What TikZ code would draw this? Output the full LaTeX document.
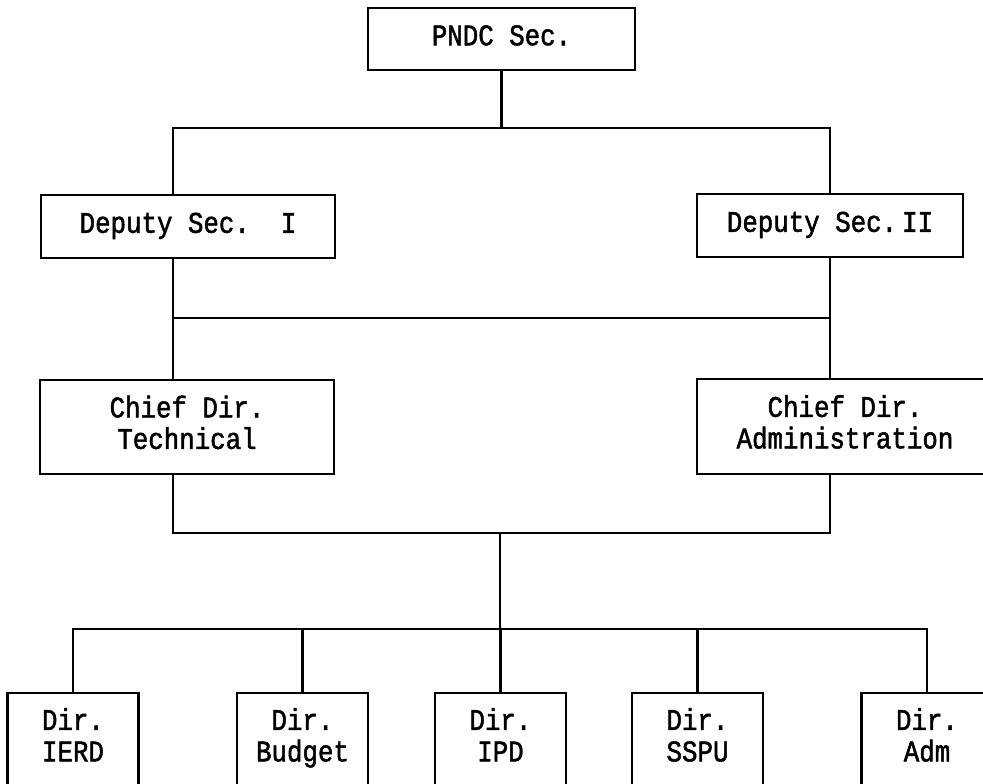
\documentclass[tikz,border=0pt]{standalone}
\usepackage{fontspec}
\newfontfamily\orgfont[FakeStretch=0.86, FakeBold=1.6]{Liberation Mono}
\usepackage{tikz}
\usetikzlibrary{positioning,calc}

\begin{document}
\begin{tikzpicture}[
  x=1pt, y=-1pt,
  post/.style={draw, line width=2.2pt, align=center, inner sep=0pt, font=\orgfont\fontsize{30}{31.5}\selectfont,
    execute at begin node=\strut, execute at end node=\strut},
  dirbox/.style={post, minimum width=131pt, minimum height=93pt},
  link/.style={line width=2.2pt}
]
\useasboundingbox (0,0) rectangle (983,784);
% top level
\node[post, minimum width=267pt, minimum height=62pt] (pndc) at (501.5,39) {PNDC Sec.};
\node[post, minimum width=294pt, minimum height=63pt] (depone) at (188,226.5) {Deputy Sec.~~I};
\node[post, minimum width=266pt, minimum height=63pt] (deptwo) at (830,225.5) {Deputy Sec.\,II};
\node[post, minimum width=294pt, minimum height=94pt] (chieftech) at (187,427) {Chief Dir.\\Technical};
\node[post, minimum width=296pt, minimum height=95pt] (chiefadm) at (845,426.5) {Chief Dir.\\Administration};
% directors
\node[dirbox] (ierd) at (73,739.5) {Dir.\\IERD};
\node[dirbox] (budget) at (302.5,739.5) {Dir.\\Budget};
\node[dirbox] (ipd) at (500.5,739.5) {Dir.\\IPD};
\node[dirbox] (sspu) at (697.5,739.5) {Dir.\\SSPU};
\node[dirbox] (adm) at (927,739.5) {Dir.\\Adm};
% bus points
\coordinate (busl) at (173,128);
\coordinate (busr) at (830,128);
\coordinate (midl) at (173,318);
\coordinate (midr) at (830,318);
\coordinate (lowl) at (173,533);
\coordinate (lowr) at (830,533);
\coordinate (lowc) at (500,533);
\coordinate (dirbus) at (500,629);
% connectors
\draw[link] (pndc.south) -- (pndc.south |- busl);
\draw[link] (depone.north -| busl) -- (busl) -- (busr) -- (deptwo.north -| busr);
\draw[link] (depone.south -| busl) -- (chieftech.north -| busl);
\draw[link] (deptwo.south -| busr) -- (chiefadm.north -| busr);
\draw[link] (midl) -- (midr);
\draw[link] (chieftech.south -| lowl) -- (lowl) -- (lowr) -- (chiefadm.south -| lowr);
\draw[link] (lowc) -- (dirbus);
\draw[link] (ierd.north) -- (ierd.north |- dirbus) -- (adm.north |- dirbus) -- (adm.north);
\foreach \d in {budget,ipd,sspu}
  \draw[link] (\d.north) -- (\d.north |- dirbus);
\end{tikzpicture}
\end{document}
